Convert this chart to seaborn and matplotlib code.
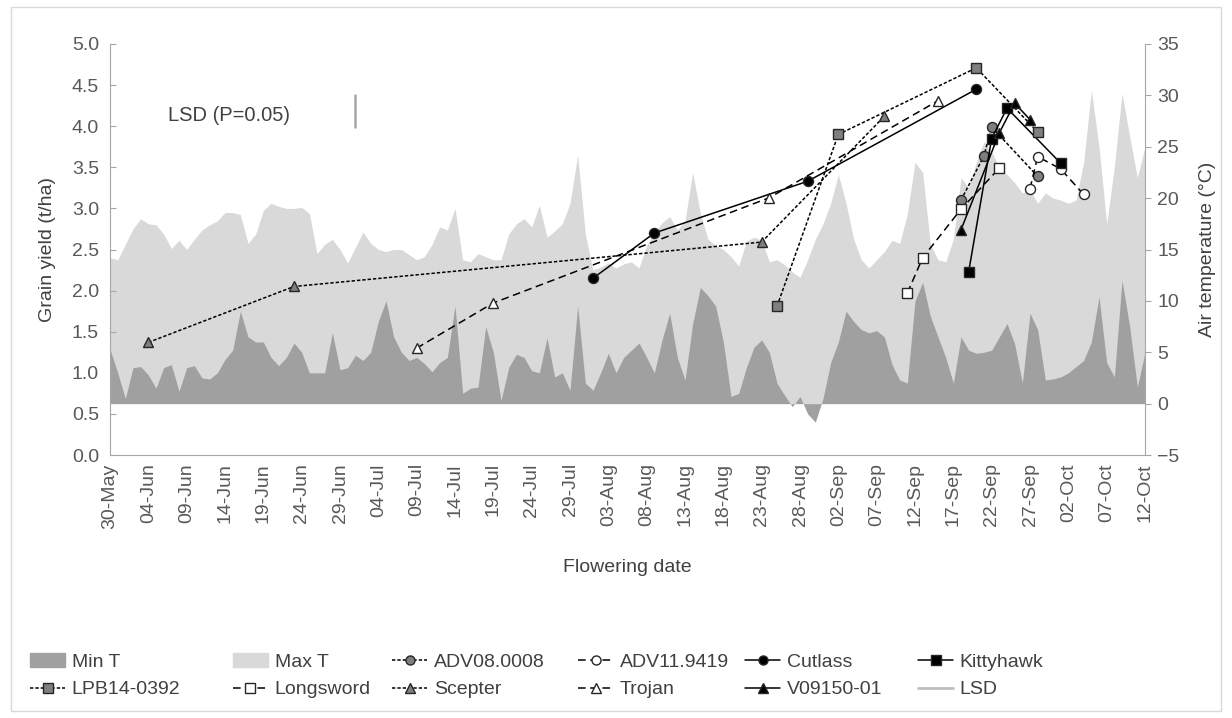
import numpy as np
import pandas as pd
import seaborn as sns
import matplotlib.pyplot as plt
import matplotlib.dates as mdates
from matplotlib.lines import Line2D
from matplotlib.patches import Patch, Rectangle

# daily air temperature (deg C), 30-May to 12-Oct
days = pd.date_range('2018-05-30', '2018-10-12', freq='D')
max_t = [14.2, 14.0, 15.5, 17.0, 18.0, 17.5, 17.4, 16.5, 15.1, 15.9,
         15.0, 16.0, 16.9, 17.4, 17.8, 18.6, 18.6, 18.4, 15.6, 16.5,
         18.8, 19.5, 19.2, 19.0, 19.0, 19.1, 18.5, 14.6, 15.5, 16.0,
         15.0, 13.7, 15.2, 16.7, 15.6, 15.0, 14.8, 15.0, 15.0, 14.5,
         14.0, 14.3, 15.5, 17.2, 16.9, 19.0, 14.0, 13.8, 14.6, 14.3,
         14.0, 14.0, 16.5, 17.5, 18.0, 17.2, 19.3, 16.2, 16.8, 17.5,
         19.5, 24.2, 16.5, 13.0, 13.3, 13.7, 13.2, 13.6, 13.8, 13.2,
         15.4, 16.6, 17.6, 18.2, 16.9, 17.8, 22.5, 18.5, 16.0, 15.4,
         15.0, 14.3, 13.4, 15.8, 16.2, 15.9, 13.8, 14.0, 13.5, 12.8,
         12.3, 14.0, 16.0, 17.5, 19.5, 22.3, 19.5, 16.0, 14.0, 13.2,
         14.0, 14.8, 15.9, 15.6, 18.5, 23.5, 22.5, 15.5, 14.0, 13.8,
         16.0, 22.0, 21.0, 23.5, 25.5, 24.5, 23.0, 22.3, 21.5, 20.5,
         20.8, 19.5, 20.5, 20.0, 19.8, 19.5, 19.8, 23.5, 30.5, 25.0,
         17.5, 23.0, 30.2, 26.0, 22.0, 25.0]
min_t = [5.3, 3.0, 0.5, 3.5, 3.6, 2.8, 1.5, 3.5, 3.8, 1.2,
         3.5, 3.7, 2.5, 2.4, 3.0, 4.3, 5.2, 9.0, 6.5, 6.0,
         6.0, 4.5, 3.7, 4.5, 5.9, 5.0, 3.0, 3.0, 3.0, 6.9,
         3.3, 3.5, 4.7, 4.2, 5.0, 8.0, 10.0, 6.5, 5.0, 4.2,
         4.5, 3.9, 3.1, 4.0, 4.5, 9.5, 1.0, 1.5, 1.6, 7.5,
         5.0, 0.3, 3.5, 4.8, 4.5, 3.2, 3.0, 6.4, 2.6, 3.0,
         1.3, 9.5, 2.0, 1.3, 3.0, 4.9, 3.0, 4.5, 5.2, 5.9,
         4.5, 3.0, 6.2, 8.8, 4.5, 2.3, 7.8, 11.3, 10.5, 9.5,
         6.0, 0.7, 1.0, 3.5, 5.5, 6.2, 5.0, 2.0, 0.8, -0.3,
         0.7, -1.0, -1.8, 0.5, 4.0, 6.0, 9.0, 8.0, 7.2, 6.9,
         7.1, 6.5, 3.8, 2.3, 2.0, 10.0, 11.8, 8.5, 6.5, 4.5,
         2.0, 6.5, 5.2, 4.9, 5.0, 5.2, 6.5, 7.8, 5.8, 2.0,
         8.8, 7.2, 2.3, 2.4, 2.6, 3.0, 3.6, 4.2, 6.0, 10.4,
         4.0, 2.6, 12.0, 7.5, 1.6, 5.0]

# flowering date and grain yield (t/ha) for each variety
adv08_dates = ['2018-09-18', '2018-09-21', '2018-09-22', '2018-09-28']
adv08_yield = [3.10, 3.64, 3.99, 3.39]
adv11_dates = ['2018-09-27', '2018-09-28', '2018-10-01', '2018-10-04']
adv11_yield = [3.24, 3.63, 3.48, 3.17]
cutlass_dates = ['2018-08-01', '2018-08-09', '2018-08-29', '2018-09-20']
cutlass_yield = [2.15, 2.70, 3.33, 4.45]
kitty_dates = ['2018-09-19', '2018-09-22', '2018-09-24', '2018-10-01']
kitty_yield = [2.23, 3.85, 4.22, 3.55]
lpb_dates = ['2018-08-25', '2018-09-02', '2018-09-20', '2018-09-28']
lpb_yield = [1.81, 3.90, 4.71, 3.93]
longsword_dates = ['2018-09-11', '2018-09-13', '2018-09-18', '2018-09-23']
longsword_yield = [1.97, 2.40, 2.99, 3.49]
scepter_dates = ['2018-06-04', '2018-06-23', '2018-08-23', '2018-09-08']
scepter_yield = [1.37, 2.05, 2.59, 4.12]
trojan_dates = ['2018-07-09', '2018-07-19', '2018-08-24', '2018-09-15']
trojan_yield = [1.30, 1.85, 3.13, 4.31]
v09_dates = ['2018-09-18', '2018-09-23', '2018-09-25', '2018-09-27']
v09_yield = [2.74, 3.92, 4.28, 4.08]
lsd = 0.39

series = {
    'ADV08.0008': (adv08_dates, adv08_yield),
    'ADV11.9419': (adv11_dates, adv11_yield),
    'Cutlass': (cutlass_dates, cutlass_yield),
    'Kittyhawk': (kitty_dates, kitty_yield),
    'LPB14-0392': (lpb_dates, lpb_yield),
    'Longsword': (longsword_dates, longsword_yield),
    'Scepter': (scepter_dates, scepter_yield),
    'Trojan': (trojan_dates, trojan_yield),
    'V09150-01': (v09_dates, v09_yield),
}
rows = []
for name, (d, y) in series.items():
    for di, yi in zip(d, y):
        rows.append({'variety': name, 'date': pd.Timestamp(di), 'yield': yi})
df = pd.DataFrame(rows)

dotted = (0, (2.2, 1.3))
dashed = (0, (5, 3))
styles = {
    'ADV08.0008': ('o', '#7f7f7f', dotted),
    'ADV11.9419': ('o', 'white', dashed),
    'Cutlass': ('o', 'black', '-'),
    'Kittyhawk': ('s', 'black', '-'),
    'LPB14-0392': ('s', '#7f7f7f', dotted),
    'Longsword': ('s', 'white', dashed),
    'Scepter': ('^', '#7f7f7f', dotted),
    'Trojan': ('^', 'white', dashed),
    'V09150-01': ('^', 'black', '-'),
}

sns.set_style('white')
plt.rcParams['font.family'] = ['Liberation Sans', 'DejaVu Sans']
txt = '#404040'
spine_c = '#a6a6a6'

fig = plt.figure(figsize=(12.32, 7.18), dpi=100)
ax = fig.add_axes([110 / 1232, 1 - 455 / 718, 1035 / 1232, 411 / 718])

for name, (mk, fc, ls) in styles.items():
    sub = df[df['variety'] == name]
    sns.lineplot(data=sub, x='date', y='yield', ax=ax, color='black',
                 linestyle=ls, linewidth=1.1, marker=mk, markersize=7.2,
                 markerfacecolor=fc, markeredgecolor='#262626',
                 markeredgewidth=1, legend=False)

# LSD bar
lsd_day = pd.Timestamp('2018-07-01')
ax.plot([lsd_day, lsd_day], [4.18 - lsd / 2, 4.18 + lsd / 2], color='#a6a6a6', lw=1.8)
ax.text(0.056, 0.827, 'LSD (P=0.05)', transform=ax.transAxes, fontsize=14.5,
        color=txt, va='center', ha='left')

ax2 = ax.twinx()
ax2.fill_between(days, 0, max_t, color='#d9d9d9', lw=0)
ax2.fill_between(days, 0, min_t, color='#a0a0a0', lw=0)
ax.set_zorder(ax2.get_zorder() + 1)
ax.patch.set_visible(False)

ax.set_xlim(days[0], days[-1])
ax.set_ylim(0, 5)
ax2.set_ylim(-5, 35)
ax.set_xticks(pd.date_range(days[0], days[-1], freq='5D'))
ax.xaxis.set_major_formatter(mdates.DateFormatter('%d-%b'))
ax.set_yticks(np.arange(0, 5.01, 0.5))
ax.yaxis.set_major_formatter(plt.FormatStrFormatter('%.1f'))
ax2.set_yticks(np.arange(-5, 35.1, 5))

for s in ['top', 'right']:
    ax.spines[s].set_visible(False)
for s in ['top', 'left', 'bottom']:
    ax2.spines[s].set_visible(False)
for s in ['left', 'bottom']:
    ax.spines[s].set_color(spine_c)
ax2.spines['right'].set_color(spine_c)

ax.tick_params(axis='x', direction='in', length=4, color=spine_c, labelsize=14,
               labelcolor='#595959', rotation=90, pad=6)
ax.tick_params(axis='y', direction='in', length=4, color=spine_c, labelsize=14,
               labelcolor='#595959', pad=8)
ax2.tick_params(axis='y', direction='out', length=4, color=spine_c, labelsize=14,
                labelcolor='#595959', pad=5)

ax.set_xlabel('Flowering date', fontsize=14, color=txt, labelpad=22)
ax.set_ylabel('Grain yield (t/ha)', fontsize=14, color=txt, labelpad=11)
ax2.set_ylabel('Air temperature (°C)', fontsize=14, color=txt, labelpad=14)
ax.grid(False)
ax2.grid(False)

# legend handles
def line_handle(name):
    mk, fc, ls = styles[name]
    return Line2D([], [], color='black', linestyle=ls, linewidth=1.1, marker=mk,
                  markersize=6.5, markerfacecolor=fc, markeredgecolor='#262626')

pairs = [
    (Patch(color='#a0a0a0'), 'Min T', line_handle('LPB14-0392'), 'LPB14-0392'),
    (Patch(color='#d9d9d9'), 'Max T', line_handle('Longsword'), 'Longsword'),
    (line_handle('ADV08.0008'), 'ADV08.0008', line_handle('Scepter'), 'Scepter'),
    (line_handle('ADV11.9419'), 'ADV11.9419', line_handle('Trojan'), 'Trojan'),
    (line_handle('Cutlass'), 'Cutlass', line_handle('V09150-01'), 'V09150-01'),
    (line_handle('Kittyhawk'), 'Kittyhawk', Line2D([], [], color='#bfbfbf', lw=2), 'LSD'),
]
col_x = [30, 233, 392, 578, 745, 918]
for x0, (h1, l1, h2, l2) in zip(col_x, pairs):
    fig.legend([h1, h2], [l1, l2], loc='upper left',
               bbox_to_anchor=(x0 / 1232, 1 - 653 / 718), frameon=False,
               fontsize=14, labelcolor=txt, handlelength=1.8, handletextpad=0.35,
               borderpad=0, borderaxespad=0, labelspacing=0.52)

fig.patches.append(Rectangle((0.009, 0.01), 0.982, 0.98, transform=fig.transFigure,
                             fill=False, ec='#d9d9d9', lw=1))

fig.savefig('out.png', dpi=100)
